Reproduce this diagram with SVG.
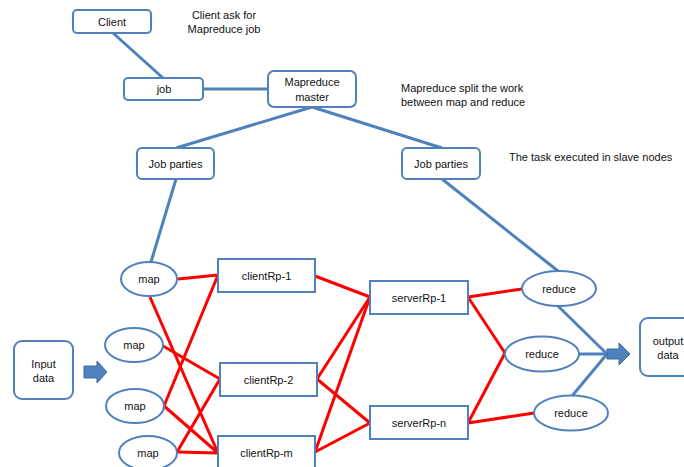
<svg xmlns="http://www.w3.org/2000/svg" width="684" height="467" viewBox="0 0 684 467">
  <style>
    text { font-family: "Liberation Sans", Arial, sans-serif; font-size: 11px; fill: #111; }
    .c { text-anchor: middle; }
    .box { fill: #fff; stroke: #4f81bd; stroke-width: 2; }
    .ell { fill: #fff; stroke: #4f81bd; stroke-width: 2; }
    .blue { stroke: #4f81bd; stroke-width: 3; fill: none; }
    .red { stroke: #ff0000; stroke-width: 3; fill: none; }
    .arrow { fill: #4f81bd; stroke: #3a6a9f; stroke-width: 1; }
  </style>
  <rect width="684" height="467" fill="#fff"/>

  <!-- connectors -->
  <g id="connectors">
    <line class="blue" x1="113" y1="33" x2="163" y2="78"/>
    <line class="blue" x1="203" y1="89" x2="268" y2="89"/>
    <line class="blue" x1="312" y1="107" x2="176" y2="148"/>
    <line class="blue" x1="312" y1="107" x2="442" y2="148"/>
    <line class="blue" x1="176" y1="179" x2="151" y2="262"/>
    <line class="blue" x1="442" y1="179" x2="558" y2="271"/>
    <line class="blue" x1="558" y1="306" x2="607" y2="354"/>
    <line class="blue" x1="579" y1="354" x2="607" y2="354"/>
    <line class="blue" x1="572" y1="396" x2="607" y2="354"/>

    <line class="red" x1="178" y1="279" x2="218" y2="275"/>
    <line class="red" x1="150" y1="297" x2="218" y2="453"/>
    <line class="red" x1="163" y1="346" x2="220" y2="379"/>
    <line class="red" x1="164" y1="406" x2="218" y2="275"/>
    <line class="red" x1="164" y1="406" x2="218" y2="453"/>
    <line class="red" x1="177" y1="452" x2="220" y2="379"/>
    <line class="red" x1="177" y1="452" x2="218" y2="453"/>

    <line class="red" x1="315" y1="276" x2="370" y2="297"/>
    <line class="red" x1="317" y1="379" x2="370" y2="297"/>
    <line class="red" x1="317" y1="379" x2="370" y2="423"/>
    <line class="red" x1="315" y1="452" x2="370" y2="297"/>
    <line class="red" x1="315" y1="452" x2="370" y2="423"/>

    <line class="red" x1="468" y1="297" x2="522" y2="289"/>
    <line class="red" x1="468" y1="297" x2="505" y2="353"/>
    <line class="red" x1="468" y1="423" x2="505" y2="353"/>
    <line class="red" x1="468" y1="423" x2="534" y2="413"/>
  </g>

  <!-- annotations -->
  <g id="notes">
    <text class="c" x="224" y="19">Client ask for</text>
    <text class="c" x="224" y="33">Mapreduce job</text>
    <text x="401" y="92">Mapreduce split the work</text>
    <text x="401" y="106">between map and reduce</text>
    <text x="509" y="161">The task executed in slave nodes</text>
  </g>

  <g id="client"><rect class="box" x="73" y="10" width="78" height="23" rx="4"/><text class="c" x="112" y="25.5">Client</text></g>
  <g id="job"><rect class="box" x="124" y="78" width="79" height="22" rx="4"/><text class="c" x="164" y="93">job</text></g>
  <g id="master"><rect class="box" x="268" y="71" width="88" height="36" rx="6"/><text class="c" x="312" y="86">Mapreduce</text><text class="c" x="312" y="101">master</text></g>
  <g id="jobparties-1"><rect class="box" x="137" y="148" width="77" height="31" rx="5"/><text class="c" x="175.5" y="167.5">Job parties</text></g>
  <g id="jobparties-2"><rect class="box" x="402" y="148" width="78" height="31" rx="5"/><text class="c" x="441" y="167.5">Job parties</text></g>

  <g id="input"><rect class="box" x="14" y="341" width="59" height="58" rx="8"/><text class="c" x="43.5" y="368">Input</text><text class="c" x="43.5" y="382">data</text></g>
  <g id="input-arrow"><path class="arrow" d="M84,366 H97 V361 L107,372 L97,383 V378 H84 Z"/></g>

  <g id="map-1"><ellipse class="ell" cx="149" cy="279" rx="28" ry="17"/><text class="c" x="149" y="283">map</text></g>
  <g id="map-2"><ellipse class="ell" cx="134" cy="345" rx="29" ry="17"/><text class="c" x="134" y="349">map</text></g>
  <g id="map-3"><ellipse class="ell" cx="135" cy="406" rx="29" ry="17"/><text class="c" x="135" y="410">map</text></g>
  <g id="map-4"><ellipse class="ell" cx="148" cy="453" rx="29" ry="17"/><text class="c" x="148" y="457">map</text></g>

  <g id="clientRp-1"><rect class="box" x="218" y="259" width="97" height="33"/><text class="c" x="266.5" y="280">clientRp-1</text></g>
  <g id="clientRp-2"><rect class="box" x="220" y="363" width="97" height="33"/><text class="c" x="268.5" y="384">clientRp-2</text></g>
  <g id="clientRp-m"><rect class="box" x="218" y="436" width="97" height="40"/><text class="c" x="266.5" y="457">clientRp-m</text></g>

  <g id="serverRp-1"><rect class="box" x="370" y="281" width="98" height="33"/><text class="c" x="419" y="301.5">serverRp-1</text></g>
  <g id="serverRp-n"><rect class="box" x="370" y="406" width="98" height="33"/><text class="c" x="419" y="426.5">serverRp-n</text></g>

  <g id="reduce-1"><ellipse class="ell" cx="559" cy="288.5" rx="37" ry="17.5"/><text class="c" x="559" y="292.5">reduce</text></g>
  <g id="reduce-2"><ellipse class="ell" cx="542" cy="354" rx="37" ry="17.5"/><text class="c" x="542" y="358">reduce</text></g>
  <g id="reduce-3"><ellipse class="ell" cx="571" cy="413" rx="37" ry="17.5"/><text class="c" x="571" y="417">reduce</text></g>

  <g id="output-arrow"><path class="arrow" d="M607,349 H619 V343 L630,354 L619,365 V359 H607 Z"/></g>
  <g id="output"><rect class="box" x="640" y="318" width="60" height="58" rx="8"/><text class="c" x="668" y="345">output</text><text class="c" x="668" y="359">data</text></g>
</svg>
